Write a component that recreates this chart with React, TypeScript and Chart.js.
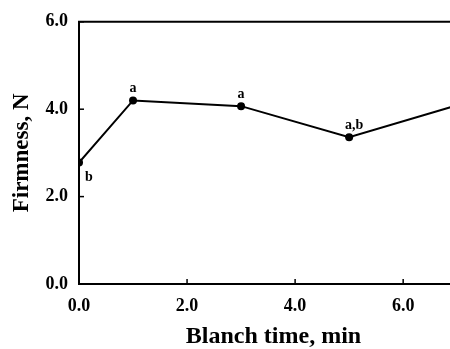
import React, { useEffect, useRef } from "react";
import { Chart, registerables } from "chart.js";

Chart.register(...registerables);

// Data
const blanchTime = [0, 1, 3, 5, 7];
const firmness = [2.78, 4.2, 4.07, 3.36, 4.09];
const sigLetters = ["b", "a", "a", "a,b", ""];
const xTickValues = [0, 2, 4, 6];
const yTickValues = [0, 2, 4, 6];
const xTitle = "Blanch time, min";
const yTitle = "Firmness, N";

const SERIF = "'Liberation Serif', 'Times New Roman', serif";

const framePlugin = {
  id: "frame",
  afterDraw(chart: any) {
    const { ctx, chartArea, scales } = chart;
    ctx.save();
    ctx.strokeStyle = "#000";
    // top border
    ctx.lineWidth = 2;
    ctx.beginPath();
    ctx.moveTo(chartArea.left - 1, chartArea.top);
    ctx.lineTo(chartArea.right, chartArea.top);
    ctx.stroke();
    // inward tick marks
    ctx.lineWidth = 1.5;
    xTickValues.forEach((v) => {
      if (v === 0) return;
      const px = scales.x.getPixelForValue(v);
      ctx.beginPath();
      ctx.moveTo(px, chartArea.bottom);
      ctx.lineTo(px, chartArea.bottom - 5);
      ctx.stroke();
    });
    yTickValues.forEach((v) => {
      if (v === 0) return;
      const py = scales.y.getPixelForValue(v);
      ctx.beginPath();
      ctx.moveTo(chartArea.left, py);
      ctx.lineTo(chartArea.left + 5, py);
      ctx.stroke();
    });
    // significance letters
    ctx.fillStyle = "#000";
    ctx.font = `bold 14px ${SERIF}`;
    ctx.textAlign = "center";
    ctx.textBaseline = "middle";
    const meta = chart.getDatasetMeta(0);
    meta.data.forEach((pt: any, i: number) => {
      const txt = sigLetters[i];
      if (!txt) return;
      if (i === 0) {
        ctx.fillText(txt, pt.x + 10, pt.y + 15);
      } else {
        ctx.fillText(txt, pt.x + (txt.length > 1 ? 5 : 0), pt.y - 12);
      }
    });
    ctx.restore();
  },
};

export default function App() {
  const ref = useRef<HTMLCanvasElement | null>(null);

  useEffect(() => {
    if (!ref.current) return;
    const tickFont = { family: SERIF, size: 18, weight: "bold" as const };
    const chart = new Chart(ref.current, {
      type: "line",
      data: {
        datasets: [
          {
            data: blanchTime.map((x, i) => ({ x, y: firmness[i] })),
            borderColor: "#000",
            backgroundColor: "#000",
            borderWidth: 2,
            pointRadius: 4,
            pointBackgroundColor: "#000",
            pointBorderWidth: 0,
            tension: 0,
          },
        ],
      },
      options: {
        animation: false,
        responsive: false,
        devicePixelRatio: 1,
        layout: { padding: { top: 18, right: 0, left: 0, bottom: 0 } },
        plugins: { legend: { display: false }, tooltip: { enabled: false } },
        scales: {
          x: {
            type: "linear",
            min: 0,
            max: 7.2,
            afterFit: (s: any) => {
              s.height = 65;
            },
            afterBuildTicks: (s: any) => {
              s.ticks = xTickValues.map((v) => ({ value: v }));
            },
            ticks: {
              callback: (v: any) => Number(v).toFixed(1),
              font: tickFont,
              color: "#000",
              padding: 12,
              maxRotation: 0,
            },
            grid: { display: false, drawTicks: false },
            border: { display: true, width: 2, color: "#000" },
            title: {
              display: true,
              text: xTitle,
              color: "#000",
              font: { family: SERIF, size: 24, weight: "bold", lineHeight: 1 },
              padding: { top: 0, bottom: 0 },
            },
          },
          y: {
            type: "linear",
            min: 0,
            max: 6,
            afterFit: (s: any) => {
              s.width = 79;
            },
            afterBuildTicks: (s: any) => {
              s.ticks = yTickValues.map((v) => ({ value: v }));
            },
            ticks: {
              callback: (v: any) => Number(v).toFixed(1),
              font: tickFont,
              color: "#000",
              padding: 11,
            },
            grid: { display: false, drawTicks: false },
            border: { display: true, width: 2, color: "#000" },
            title: {
              display: true,
              text: yTitle,
              color: "#000",
              font: { family: SERIF, size: 23, weight: "bold", lineHeight: 1 },
              padding: { top: 11, bottom: 0 },
            },
          },
        },
      },
      plugins: [framePlugin],
    });
    return () => chart.destroy();
  }, []);

  return (
    <div
      style={{
        position: "fixed",
        left: 0,
        top: 0,
        width: 450,
        height: 349,
        overflow: "hidden",
        background: "#fff",
      }}
    >
      <canvas ref={ref} width={472} height={349} style={{ display: "block" }} />
    </div>
  );
}
